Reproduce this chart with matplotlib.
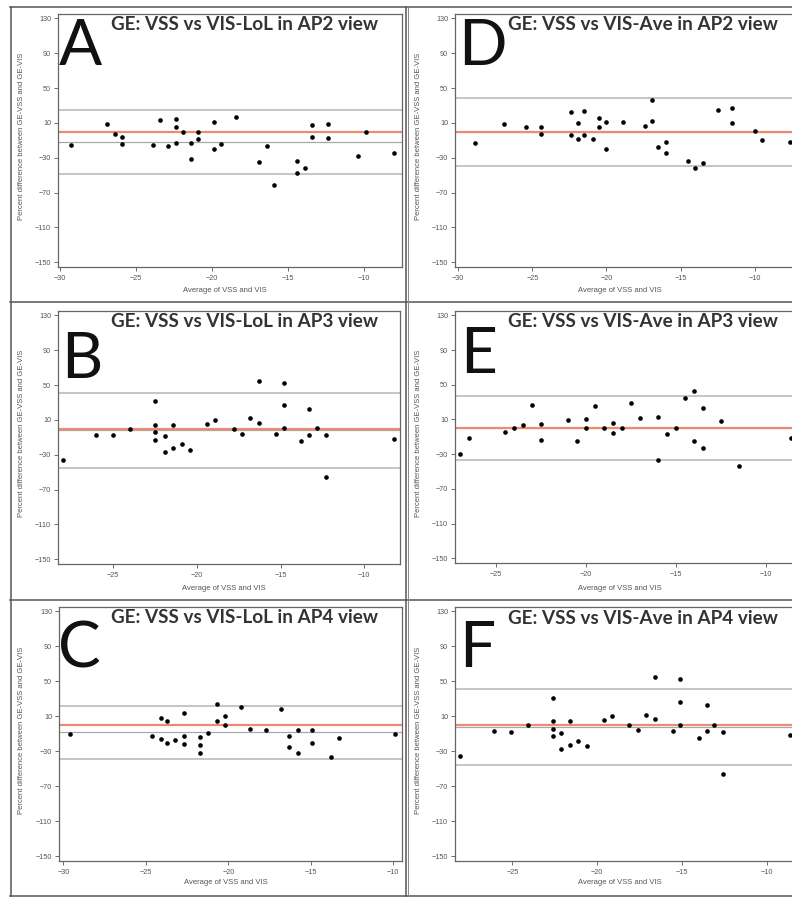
import matplotlib.pyplot as plt
from matplotlib.lines import Line2D

W, H = 792, 897
plt.rcParams['font.family'] = ['Liberation Sans', 'DejaVu Sans']

# ---- data (mean difference and limits of agreement) ----
a_x = [-29.3, -26.9, -26.4, -25.9, -25.9, -23.9, -23.4, -22.9, -22.4, -22.4, -22.4,
       -21.9, -21.4, -21.4, -20.9, -20.9, -19.9, -19.9, -19.4, -18.4, -16.9, -16.4,
       -15.9, -14.4, -14.4, -13.9, -13.4, -13.4, -12.4, -12.4, -10.4, -9.9, -8.0]
a_y = [-15.8, 8.3, -3.1, -6.2, -14.6, -15.8, 13.3, -16.5, 14.1, 5.3, -12.7,
       -0.4, -13.5, -31.8, -0.4, -8.9, 11.0, -19.6, -14.6, 16.8, -34.5, -16.9,
       -61.3, -33.7, -47.1, -42.2, 8.0, -6.6, 9.1, -7.3, -28.0, -0.4, -24.6]
a_lines = [24.7, -11.6, -48.3]

b_x = [-28.0, -26.0, -25.0, -24.0, -22.5, -22.5, -22.5, -22.5, -21.9, -21.9, -21.4,
       -21.4, -20.9, -20.4, -19.4, -18.9, -17.8, -17.3, -16.8, -16.3, -16.3, -15.3,
       -14.8, -14.8, -14.8, -13.8, -13.3, -13.3, -12.8, -12.3, -12.3, -8.2]
b_y = [-36.2, -7.1, -7.9, -0.3, 31.1, 4.3, -4.5, -13.2, -8.7, -27.4, 4.3,
       -22.8, -18.2, -24.3, 5.5, 10.4, -0.3, -6.0, 12.0, 54.8, 5.9, -6.4,
       52.8, 26.5, 0.1, -14.4, 22.7, -7.1, 0.1, -7.9, -55.6, -11.7]
b_lines = [41.0, -2.0, -45.0]

c_x = [-29.6, -24.6, -24.1, -24.1, -23.7, -23.7, -23.2, -22.7, -22.7, -22.7, -21.7,
       -21.7, -21.7, -21.2, -20.7, -20.7, -20.2, -20.2, -19.2, -18.7, -17.7, -16.8,
       -16.3, -16.3, -15.8, -15.8, -14.9, -14.9, -13.8, -13.3, -9.9]
c_y = [-10.4, -12.3, 8.2, -16.4, 4.1, -21.0, -17.2, 13.2, -12.6, -22.1, -13.4,
       -22.9, -32.4, -9.6, 24.5, 4.8, 10.5, -0.1, 20.7, -5.1, -5.8, 18.1,
       -12.3, -24.8, -6.2, -32.0, -6.2, -20.6, -36.9, -14.9, -10.4]
c_lines = [21.9, -8.4, -38.8]

d_x = [-28.9, -26.9, -25.4, -24.4, -24.4, -22.4, -22.4, -21.9, -21.9, -21.5, -21.5,
       -20.9, -20.5, -20.5, -20.0, -20.0, -18.9, -17.4, -16.9, -16.9, -16.5, -16.0,
       -16.0, -14.5, -14.0, -13.5, -12.5, -11.5, -11.5, -10.0, -9.5, -7.6]
d_y = [-13.1, 8.3, 4.9, 4.9, -3.1, 22.9, -3.9, 9.9, -8.1, 24.0, -3.9,
       -8.5, 15.6, 5.7, 11.0, -19.6, 11.0, 6.8, 36.3, 12.6, -17.3, -11.5,
       -24.2, -33.7, -42.2, -36.4, 24.8, 27.1, 9.9, 1.1, -9.2, -12.3]
d_lines = [38.5, -0.5, -39.5]

e_x = [-27.0, -26.5, -24.5, -24.0, -23.5, -23.0, -22.5, -22.5, -21.0, -20.5, -20.0,
       -20.0, -19.5, -19.0, -18.5, -18.5, -18.0, -17.5, -17.0, -16.0, -16.0, -15.5,
       -15.0, -14.5, -14.0, -14.0, -13.5, -13.5, -12.5, -11.5, -8.6]
e_y = [-29.7, -11.0, -4.1, -0.3, 4.0, 26.1, 4.3, -13.2, 9.7, -14.8, 10.4,
       -0.3, 25.3, -0.3, 5.5, -5.6, -0.3, 28.8, 11.6, 12.7, -37.3, -6.7,
       -0.3, 34.5, 43.3, -14.8, 22.7, -22.4, 8.2, -43.8, -11.7]
e_lines = [37.5, 0.1, -37.3]

f_x = [-28.1, -26.1, -25.1, -24.1, -22.6, -22.6, -22.6, -22.6, -22.1, -22.1, -21.6,
       -21.6, -21.1, -20.6, -19.6, -19.1, -18.1, -17.6, -17.1, -16.6, -16.6, -15.5,
       -15.1, -15.1, -15.1, -14.0, -13.5, -13.5, -13.1, -12.6, -12.6, -8.6]
f_y = [-35.6, -7.3, -8.1, 0.0, 31.3, 4.9, -4.3, -13.1, -8.9, -27.2, 4.9,
       -23.0, -18.4, -24.2, 5.3, 10.6, 0.0, -5.8, 11.8, 54.6, 6.4, -7.0,
       53.1, 26.7, 0.0, -14.6, 22.5, -7.3, 0.0, -8.1, -55.9, -11.9]
f_lines = [40.9, -2.0, -45.2]

titles = ['GE: VSS vs VIS-LoL in AP2 view', 'GE: VSS vs VIS-LoL in AP3 view',
          'GE: VSS vs VIS-LoL in AP4 view', 'GE: VSS vs VIS-Ave in AP2 view',
          'GE: VSS vs VIS-Ave in AP3 view', 'GE: VSS vs VIS-Ave in AP4 view']
letters = ['A', 'B', 'C', 'D', 'E', 'F']
y_ticks = [130, 90, 50, 10, -30, -70, -110, -150]

panels = [
    (a_x, a_y, a_lines, (-30.13, -7.5), [-30, -25, -20, -15, -10]),
    (b_x, b_y, b_lines, (-28.3, -7.86), [-25, -20, -15, -10]),
    (c_x, c_y, c_lines, (-30.26, -9.47), [-30, -25, -20, -15, -10]),
    (d_x, d_y, d_lines, (-30.22, -7.35), [-30, -25, -20, -15, -10]),
    (e_x, e_y, e_lines, (-27.26, -8.43), [-25, -20, -15, -10]),
    (f_x, f_y, f_lines, (-28.38, -8.39), [-25, -20, -15, -10]),
]

# pixel boxes (left, top, right, bottom) and text anchors
boxes = [(58, 14, 402, 267), (58, 311, 400, 564), (59, 607, 402, 861),
         (455, 14, 794, 267), (455, 311, 794, 563), (455, 607, 794, 861)]
letter_pos = [(59, 65), (61, 378), (58, 667), (458, 65), (460, 373), (459, 667)]
title_pos = [(378, 30), (378, 327), (378, 623), (778, 30), (778, 327), (778, 624)]
xlabel_y = [291, 588, 882, 291, 588, 882]
ylabel_x = [22, 22, 22, 418, 418, 418]

fig = plt.figure(figsize=(W / 100, H / 100), dpi=100)
fig.patch.set_facecolor('white')


def fx(px):
    return px / W


def fy(py):
    return 1 - py / H


for i, (xs, ys, lines, xlim, xt) in enumerate(panels):
    l, t, r, b = boxes[i]
    ax = fig.add_axes([fx(l), fy(b), fx(r) - fx(l), fy(t) - fy(b)])
    ax.axhline(lines[0], color='#b5b5b5', lw=1.1, zorder=1)
    ax.axhline(lines[2], color='#b5b5b5', lw=1.1, zorder=1)
    ax.axhline(lines[1], color='#a8a8a8', lw=0.9, zorder=1)
    ax.axhline(0, color='#ee8a72', lw=1.6, zorder=1.5)
    ax.scatter(xs, ys, s=11, color='black', zorder=3, linewidths=0)
    ax.set_xlim(*xlim)
    ax.set_ylim(-155.5, 135)
    ax.set_xticks(xt)
    ax.set_yticks(y_ticks)
    ax.tick_params(labelsize=5.2, colors='#555555', length=3, width=0.6, pad=2)
    ax.tick_params(axis='x', pad=3)
    for sp in ax.spines.values():
        sp.set_color('#666666')
        sp.set_linewidth(0.9)

    fig.text(fx((l + r) / 2 - 5 if i < 3 else 620), fy(xlabel_y[i]), 'Average of VSS and VIS',
             fontsize=5.5, color='#555555', ha='center', va='center')
    fig.text(fx(ylabel_x[i]), fy((t + b) / 2 - 4),
             'Percent difference between GE-VSS and GE-VIS',
             fontsize=5.5, color='#555555', ha='center', va='center', rotation=90)
    lx, ly = letter_pos[i]
    fig.text(fx(lx), fy(ly), letters[i], fontsize=46, family='Lato', color='#111111',
             ha='left', va='baseline')
    tx, ty = title_pos[i]
    fig.text(fx(tx), fy(ty), titles[i], fontsize=13.6, family='Lato', weight='bold',
             color='#333333', ha='right', va='baseline')

# panel frames
frame = dict(color='#555555', lw=1.1)
for py in (7, 302, 600, 896):
    fig.add_artist(Line2D([fx(10), 1], [fy(py), fy(py)], **frame))
for px in (10.5, 406):
    fig.add_artist(Line2D([fx(px), fx(px)], [fy(7), fy(896)], **frame))
fig.add_artist(Line2D([fx(408), fx(408)], [fy(7), fy(896)], color='#888888', lw=0.7))

fig.savefig('out.png', dpi=100)
